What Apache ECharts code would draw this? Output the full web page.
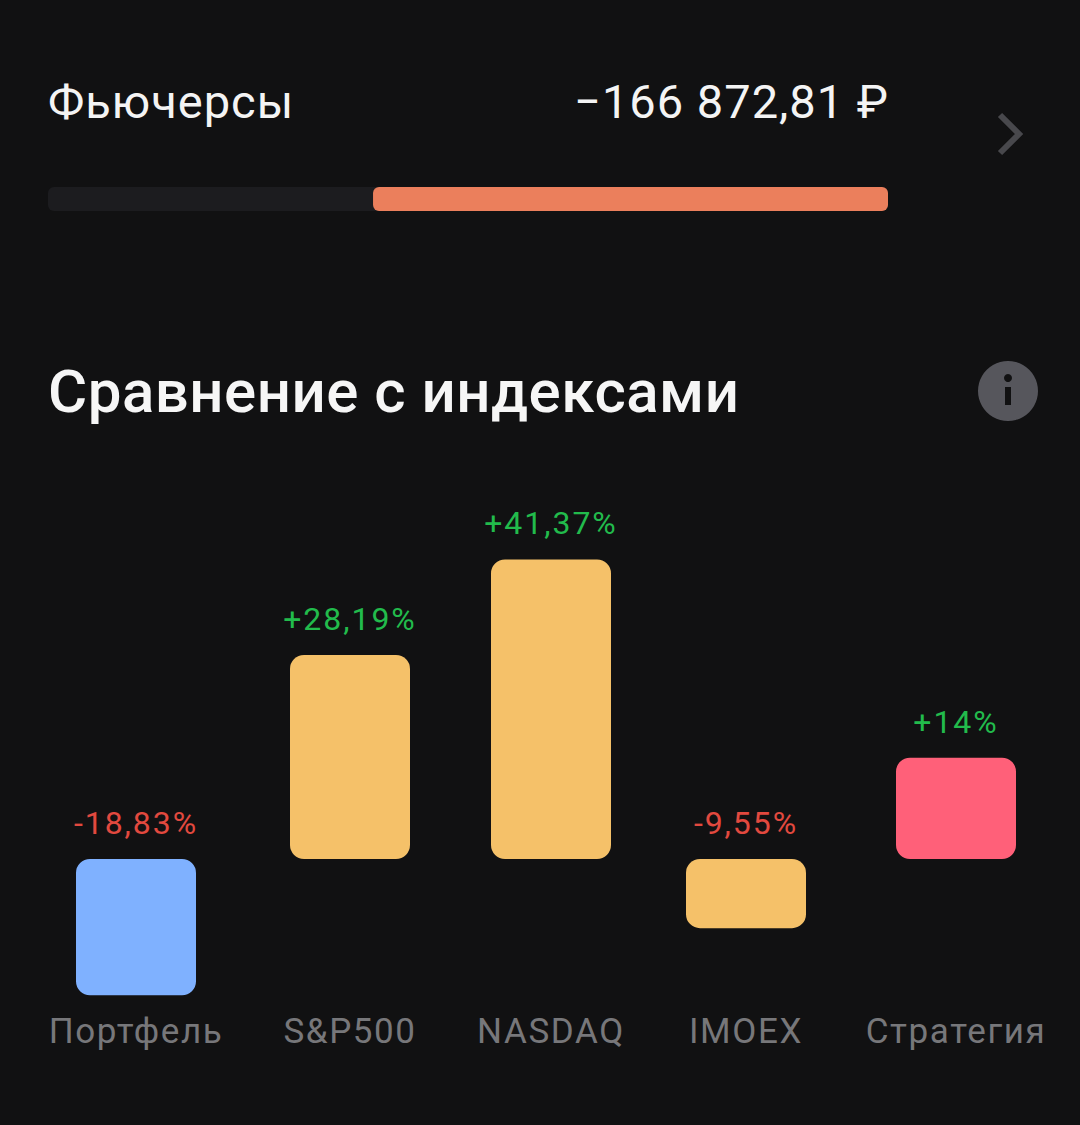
<!DOCTYPE html>
<html><head><meta charset="utf-8">
<style>html,body{margin:0;padding:0;background:#111112}#c{width:1080px;height:1125px}
#c text[style*="32px"]{letter-spacing:1.95px}
#c text[style*="35px"]{letter-spacing:1.6px}
#c text[style*="47px"]{letter-spacing:1px}
#c text[style*="60px"]{letter-spacing:.5px}
</style>
<script src="https://cdn.jsdelivr.net/npm/echarts@6/dist/echarts.min.js"></script></head>
<body><div id="c"></div>
<script>
const categories = ['Портфель','S&P500','NASDAQ','IMOEX','Стратегия'];
const values = [-18.83,28.19,41.37,-9.55,14];
const valueLabels = ['-18,83%','+28,19%','+41,37%','-9,55%','+14%'];
const futuresValue = 166872.81;
const futuresScaleMax = 272200;
const futuresLabel = '−166 872,81 ₽';

const barColors = ['#7fb1ff','#f5c169','#f5c169','#f5c169','#ff6079'];
const centers = [136,350,551,746,956];
const font = 'Roboto';
const grids=[],xAxes=[],yAxes=[],series=[];
categories.forEach((c,i)=>{
  grids.push({left:centers[i]-100,width:200,top:533.2,height:470.6});
  xAxes.push({type:'category',gridIndex:i,data:[c],position:'bottom',axisLine:{show:false,onZero:false},axisTick:{show:false},
    axisLabel:{show:true,interval:0,color:'#77777a',fontFamily:font,fontSize:35,margin:10,hideOverlap:false,width:260,overflow:'none'}});
  yAxes.push({type:'value',gridIndex:i,min:-20,max:45,show:false,splitLine:{show:false}});
  series.push({type:'bar',xAxisIndex:i,yAxisIndex:i,barWidth:120,silent:true,
    data:[{value:values[i],itemStyle:{color:barColors[i],borderRadius:14},
      label:{show:true,position:'top',distance:20,formatter:valueLabels[i],fontFamily:font,fontSize:32,
        color:values[i]<0?'#e2493f':'#22bb4c'}}]});
});
// progress bar
grids.push({left:48,width:840,top:187,height:24});
xAxes.push({type:'value',gridIndex:5,min:0,max:futuresScaleMax,inverse:true,show:false,splitLine:{show:false}});
yAxes.push({type:'category',gridIndex:5,data:['Фьючерсы'],show:false});
series.push({type:'bar',xAxisIndex:5,yAxisIndex:5,barWidth:24,silent:true,showBackground:true,
  backgroundStyle:{color:'#1c1c1f',borderRadius:6},
  itemStyle:{color:'#eb7f5c',borderRadius:6},data:[futuresValue]});

const chart=echarts.init(document.getElementById('c'),null,{renderer:'svg'});
chart.setOption({
  animation:false,backgroundColor:'#111112',
  grid:grids,xAxis:xAxes,yAxis:yAxes,series:series,
  graphic:[
    {type:'text',left:48,top:78,style:{text:'Фьючерсы',fill:'#f4f4f4',font:'400 47px Roboto'}},
    {type:'text',right:191,top:78,style:{text:futuresLabel,fill:'#f4f4f4',font:'400 47px Roboto',textAlign:'right'}},
    {type:'text',left:48,top:361,style:{text:'Сравнение с индексами',fill:'#f6f6f6',font:'500 60px Roboto'}},
    {type:'polyline',shape:{points:[[1000,115],[1019,134],[1000,153]]},style:{stroke:'#48484c',lineWidth:6,fill:null}},
    {type:'circle',shape:{cx:1008,cy:391,r:30},style:{fill:'#56565c'}},
    {type:'circle',shape:{cx:1008,cy:378,r:4},style:{fill:'#111112'}},
    {type:'rect',shape:{x:1005,y:387,width:6,height:18},style:{fill:'#111112'}}
  ]
});
</script></body></html>
